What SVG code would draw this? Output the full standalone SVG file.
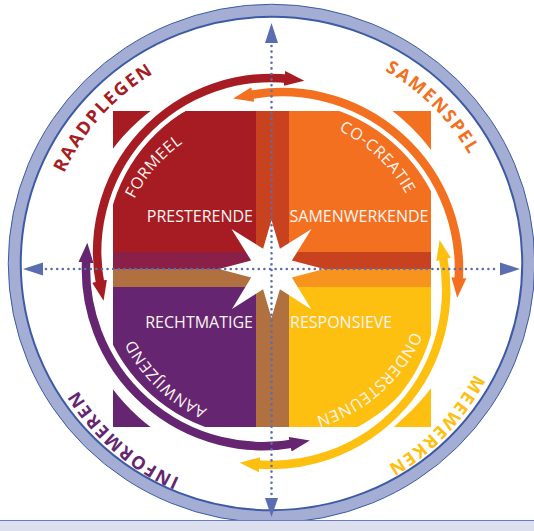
<svg xmlns="http://www.w3.org/2000/svg" width="534" height="531" viewBox="0 0 534 531">
<style>
.lbl{font-family:"Open Sans","Noto Sans","DejaVu Sans",sans-serif;fill:#fbf4f0;font-size:16px}
.arcl{font-family:"Open Sans","Noto Sans","DejaVu Sans",sans-serif;fill:#fbf4f0;font-size:16px;letter-spacing:0.6px}
.outl{font-family:"Open Sans","Noto Sans","DejaVu Sans",sans-serif;font-weight:700;font-size:18px;letter-spacing:1.8px}
.gap{fill:none;stroke:#ffffff;stroke-width:18}
.arc{fill:none;stroke-width:8.5}
.axis{fill:none;stroke:#5a6db1;stroke-width:2.6;stroke-linecap:round;stroke-dasharray:0 5.6}
.ahead{fill:#5a6db1}
</style>
<defs>
<path id="po" d="M500,269 A228.5,228.5 0 1 1 43,269 A228.5,228.5 0 1 1 500,269"/>
<path id="pi" d="M425.5,269 A154,154 0 1 1 117.5,269 A154,154 0 1 1 425.5,269"/>
<marker id="mRed" markerUnits="userSpaceOnUse" viewBox="-6 -8 20 16" refX="0" refY="0" markerWidth="20" markerHeight="16" orient="auto-start-reverse"><path d="M14,0 L-6,-7.5 L-6,7.5 Z" fill="#a61c22"/></marker>
<marker id="mOra" markerUnits="userSpaceOnUse" viewBox="-6 -8 20 16" refX="0" refY="0" markerWidth="20" markerHeight="16" orient="auto-start-reverse"><path d="M14,0 L-6,-7.5 L-6,7.5 Z" fill="#f37021"/></marker>
<marker id="mYel" markerUnits="userSpaceOnUse" viewBox="-6 -8 20 16" refX="0" refY="0" markerWidth="20" markerHeight="16" orient="auto-start-reverse"><path d="M14,0 L-6,-7.5 L-6,7.5 Z" fill="#fdc010"/></marker>
<marker id="mPur" markerUnits="userSpaceOnUse" viewBox="-6 -8 20 16" refX="0" refY="0" markerWidth="20" markerHeight="16" orient="auto-start-reverse"><path d="M14,0 L-6,-7.5 L-6,7.5 Z" fill="#662570"/></marker>
</defs>
<rect x="0" y="0" width="534" height="531" fill="#ffffff"/>

<g id="outer-ring">
<ellipse cx="271.5" cy="263.5" rx="257" ry="253" fill="none" stroke="#a4add3" stroke-width="12.5"/>
<ellipse cx="271.5" cy="263.5" rx="263.25" ry="259.25" fill="none" stroke="#3d5ba5" stroke-width="1"/>
<ellipse cx="271.5" cy="263.5" rx="250.75" ry="246.75" fill="none" stroke="#3d5ba5" stroke-width="2"/>
<rect x="0" y="520" width="534" height="11" fill="#dcdfee"/>
<line x1="0" y1="520.5" x2="534" y2="520.5" stroke="#6a7cbc" stroke-width="1"/>
</g>

<g id="bands">
<rect x="256" y="111" width="33" height="141" fill="#c9421f"/>
<rect x="256" y="287" width="33" height="140" fill="#b07040"/>
<rect x="113" y="252" width="143" height="17" fill="#8a1f48"/>
<rect x="113" y="269" width="176" height="18" fill="#b07040"/>
<rect x="256" y="252" width="175" height="17" fill="#c9421f"/>
<rect x="289" y="269" width="142" height="18" fill="#f7941d"/>
</g>

<g id="quad-presterende">
<rect x="113" y="111" width="143" height="141" fill="#a61c22"/>
<text class="lbl" x="253" y="222" text-anchor="end">PRESTERENDE</text>
<text class="arcl"><textPath href="#pi" startOffset="61.4%" text-anchor="middle">FORMEEL</textPath></text>
</g>

<g id="quad-samenwerkende">
<rect x="289" y="111" width="142" height="141" fill="#f37021"/>
<text class="lbl" x="289.5" y="222">SAMENWERKENDE</text>
<text class="arcl"><textPath href="#pi" startOffset="87.1%" text-anchor="middle">CO-CREATIE</textPath></text>
</g>

<g id="quad-rechtmatige">
<rect x="113" y="287" width="143" height="140" fill="#662570"/>
<text class="lbl" x="253" y="328" text-anchor="end">RECHTMATIGE</text>
<text class="arcl"><textPath href="#pi" startOffset="37.2%" text-anchor="middle">AANWIJZEND</textPath></text>
</g>

<g id="quad-responsieve">
<rect x="289" y="287" width="142" height="140" fill="#fdc010"/>
<text class="lbl" x="290" y="328">RESPONSIEVE</text>
<text class="arcl"><textPath href="#pi" startOffset="13.5%" text-anchor="middle">ONDERSTEUNEN</textPath></text>
</g>

<g id="outer-labels">
<text class="outl" fill="#a61c22"><textPath href="#po" startOffset="61.67%" text-anchor="middle">RAADPLEGEN</textPath></text>
<text class="outl" fill="#f37021"><textPath href="#po" startOffset="87.5%" text-anchor="middle">SAMENSPEL</textPath></text>
<text class="outl" fill="#fdc010"><textPath href="#po" startOffset="12.1%" text-anchor="middle">MEEWERKEN</textPath></text>
<text class="outl" fill="#662570"><textPath href="#po" startOffset="36.4%" text-anchor="middle">INFORMEREN</textPath></text>
</g>

<g id="connectors">
<circle cx="271.5" cy="269" r="189.5" fill="none" stroke="#ffffff" stroke-width="19"/>
<path class="gap" d="M100.76,287.11 A173.85,173.85 0 0 1 290.38,79.08"/>
<path class="gap" d="M246.89,95.70 A176.85,176.85 0 0 1 458.38,283.80"/>
<path class="gap" d="M442.43,253.62 A175.2,175.2 0 0 1 253.60,464.08"/>
<path class="gap" d="M296.05,443.12 A177.2,177.2 0 0 1 86.38,256.64"/>
<path class="arc" stroke="#a61c22" marker-start="url(#mRed)" marker-end="url(#mRed)" d="M100.76,287.11 A173.85,173.85 0 0 1 290.38,79.08"/>
<path class="arc" stroke="#f37021" marker-start="url(#mOra)" marker-end="url(#mOra)" d="M246.89,95.70 A176.85,176.85 0 0 1 458.38,283.80"/>
<path class="arc" stroke="#fdc010" marker-start="url(#mYel)" marker-end="url(#mYel)" d="M442.43,253.62 A175.2,175.2 0 0 1 253.60,464.08"/>
<path class="arc" stroke="#662570" marker-start="url(#mPur)" marker-end="url(#mPur)" d="M296.05,443.12 A177.2,177.2 0 0 1 86.38,256.64"/>
</g>

<g id="star">
<polygon fill="#ffffff" points="324,269 291.83,277.42 311.5,309.5 279.92,289.33 271.5,318 263.08,289.33 232,309 251.17,277.42 219,269 251.17,260.58 231.5,229 263.08,248.67 271.5,220 279.92,248.67 311.5,229 291.83,260.58"/>
</g>

<g id="axes">
<line class="axis" x1="271.5" y1="46" x2="271.5" y2="496"/>
<line class="axis" x1="46" y1="269" x2="498" y2="269"/>
<polygon class="ahead" points="271.5,23 265,43 278,43"/>
<polygon class="ahead" points="271.5,517 265,498 278,498"/>
<polygon class="ahead" points="23,269 43,262.5 43,275.5"/>
<polygon class="ahead" points="520,269 500,262.5 500,275.5"/>
</g>
</svg>
